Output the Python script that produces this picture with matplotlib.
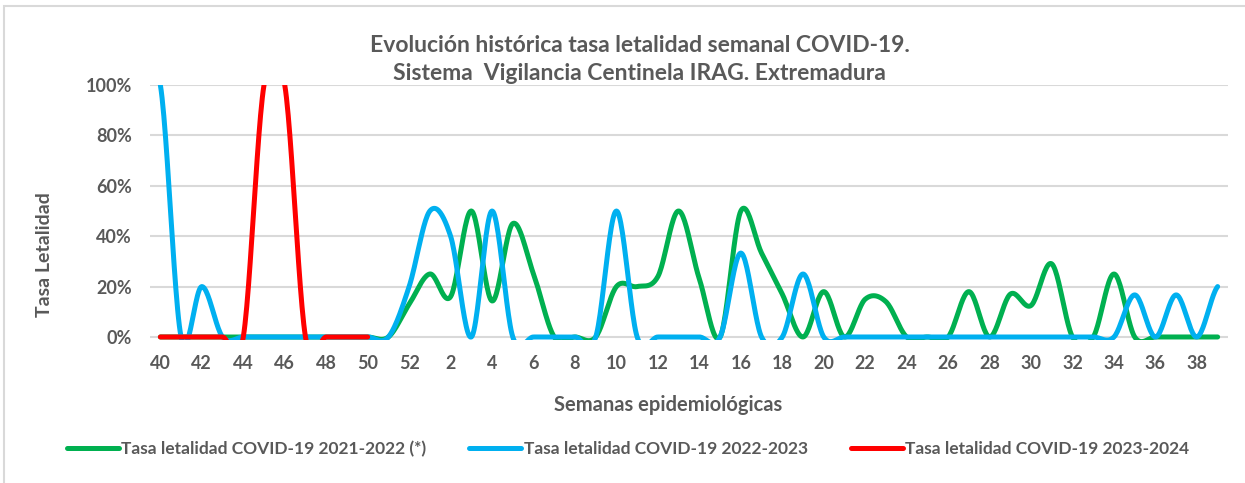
import numpy as np
import matplotlib.pyplot as plt
from matplotlib.patches import Rectangle

plt.rcParams['font.family'] = ['Lato', 'DejaVu Sans']

# semanas epidemiológicas 40..52, 1..39
semanas = list(range(40, 53)) + list(range(1, 40))

tasa_2122 = [0, 0, 0, 0, 0, 0, 0, 0, 0, 0, 0,          # 40-50
             0, 0.13,                                  # 51-52
             0.25, 0.16, 0.50, 0.143, 0.45, 0.25, 0, 0, 0,   # 1-9
             0.20, 0.20, 0.24, 0.50, 0.23, 0, 0.50, 0.333, 0.17, 0,  # 10-19
             0.18, 0, 0.15, 0.14, 0, 0, 0, 0.18, 0, 0.17,   # 20-29
             0.125, 0.29, 0, 0, 0.25, 0, 0, 0, 0, 0]        # 30-39

tasa_2223 = [1.0, 0, 0.20, 0, 0, 0, 0, 0, 0, 0, 0,      # 40-50
             0, 0.20,                                  # 51-52
             0.50, 0.40, 0, 0.50, 0, 0, 0, 0, 0,       # 1-9
             0.50, 0, 0, 0, 0, 0, 0.333, 0, 0, 0.25,   # 10-19
             0, 0, 0, 0, 0, 0, 0, 0, 0, 0,             # 20-29
             0, 0, 0, 0, 0, 0.167, 0, 0.167, 0, 0.20]  # 30-39

tasa_2324 = [0, 0, 0, 0, 0, 1.0, 1.0, 0, 0, 0, 0]      # 40-50

series = [
    ('Tasa letalidad COVID-19 2021-2022 (*)', tasa_2122, '#00B050'),
    ('Tasa letalidad COVID-19 2022-2023', tasa_2223, '#00B0F0'),
    ('Tasa letalidad COVID-19 2023-2024', tasa_2324, '#FF0000'),
]

gris = '#595959'


def suavizar(y, n=24):
    # línea suavizada tipo Excel (Catmull-Rom)
    y = np.asarray(y, float)
    p = np.concatenate([[y[0]], y, [y[-1]]])
    t = np.linspace(0, 1, n, endpoint=False)
    xs, ys = [], []
    for i in range(len(y) - 1):
        p0, p1, p2, p3 = p[i], p[i + 1], p[i + 2], p[i + 3]
        ys.append(0.5 * (2 * p1 + (p2 - p0) * t
                         + (2 * p0 - 5 * p1 + 4 * p2 - p3) * t ** 2
                         + (3 * p1 - p0 - 3 * p2 + p3) * t ** 3))
        xs.append(i + t)
    xs.append([len(y) - 1])
    ys.append([y[-1]])
    return np.concatenate(xs), np.concatenate(ys)


fig = plt.figure(figsize=(12.45, 4.83), dpi=100)
fig.patches.append(Rectangle((4 / 1245, -0.1), 1.2, 1 - 6 / 483 + 0.1,
                             transform=fig.transFigure, fill=False,
                             edgecolor='#D9D9D9', lw=1.5))

ax = fig.add_axes([150 / 1245, 1 - 340 / 483, 1078 / 1245, 255 / 483])

handles = []
for nombre, valores, color in series:
    xs, ys = suavizar(valores)
    ln, = ax.plot(xs, ys, color=color, lw=3.6, label=nombre,
                  solid_capstyle='round')
    handles.append(ln)

ax.set_xlim(-0.5, 51.5)
ax.set_ylim(-0.012, 1.0)
ax.set_xticks(range(0, 52, 2))
ax.set_xticklabels([str(s) for s in semanas[::2]])
ax.set_yticks(np.arange(0, 1.01, 0.2))
ax.set_yticklabels([f'{int(round(v * 100))}%' for v in np.arange(0, 1.01, 0.2)])
ax.tick_params(length=0, labelsize=13, labelcolor=gris)
ax.tick_params(axis='y', pad=13)
ax.tick_params(axis='x', pad=11)
for lab in ax.get_xticklabels() + ax.get_yticklabels():
    lab.set_fontweight('bold')
ax.grid(axis='y', color='#D9D9D9', lw=1.5)
ax.set_axisbelow(True)
for s in ax.spines.values():
    s.set_visible(False)

fig.text(0.514, 1 - 45 / 483, 'Evolución histórica tasa letalidad semanal COVID-19.',
         ha='center', va='center', fontsize=16.5, fontweight='bold', color=gris)
fig.text(0.514, 1 - 73 / 483, 'Sistema  Vigilancia Centinela IRAG. Extremadura',
         ha='center', va='center', fontsize=16.5, fontweight='bold', color=gris)
fig.text(45 / 1245, 1 - 255 / 483, 'Tasa Letalidad', rotation=90,
         ha='center', va='center', fontsize=14, fontweight='bold', color=gris)
fig.text(668 / 1245, 1 - 405 / 483, 'Semanas epidemiológicas',
         ha='center', va='center', fontsize=14.5, fontweight='bold', color=gris)

fig.legend(handles=handles, loc='center', ncol=3, frameon=False,
           bbox_to_anchor=(628 / 1245, 1 - 449 / 483),
           prop={'weight': 'bold', 'size': 12.5}, labelcolor=gris,
           handlelength=3.0, handletextpad=0.12, columnspacing=2.5)

fig.savefig('out.png', dpi=100)
